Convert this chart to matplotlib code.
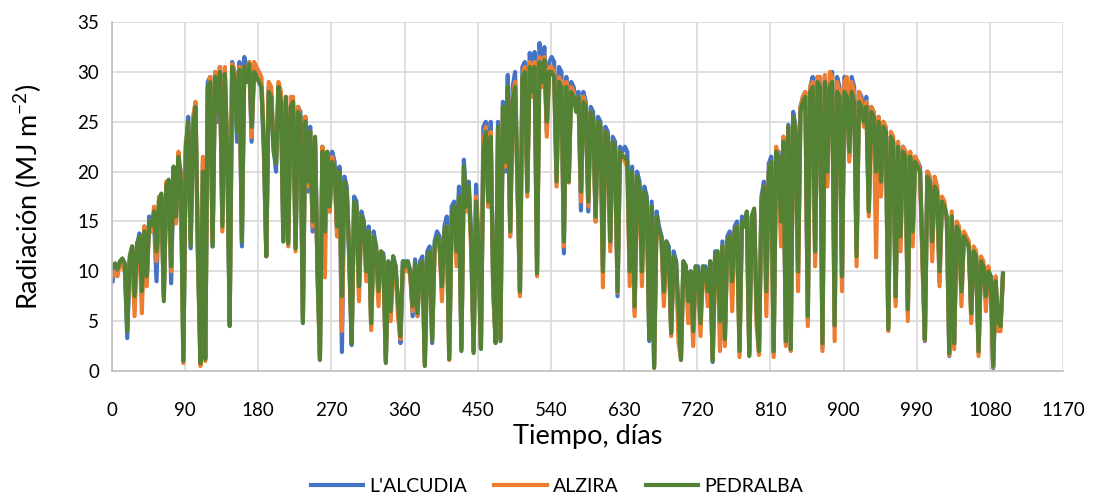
import numpy as np
import matplotlib.pyplot as plt

# Daily solar radiation, one value every 3 days (day 1 .. 1096)
days = np.arange(1, 1097, 3)

lalcudia = [
    # days 1-88
    9.0, 10.5, 10.0, 10.8, 11.0, 10.5, 3.3, 11.0, 12.0, 6.5, 12.5, 13.8, 7.5, 14.5, 9.0,
    15.5, 14.0, 15.0, 9.0, 16.5, 17.5, 7.5, 18.5, 19.0, 8.8, 20.0, 15.0, 21.0, 20.0, 1.2,
    # days 91-178
    22.0, 25.5, 12.3, 25.0, 26.0, 12.0, 1.0, 21.0, 1.5, 29.0, 29.5, 12.5, 30.0, 25.0, 30.5,
    15.0, 30.0, 21.0, 5.0, 31.0, 30.0, 23.0, 31.0, 12.5, 31.5, 29.5, 31.0, 23.0, 30.5, 29.5,
    # days 181-268
    29.0, 28.5, 22.0, 11.8, 28.5, 28.0, 22.5, 20.0, 28.5, 27.5, 13.0, 27.0, 13.0, 26.5, 26.5,
    12.5, 26.5, 26.0, 5.0, 25.5, 18.0, 24.5, 14.0, 23.0, 10.5, 1.5, 22.5, 13.5, 21.5, 16.0,
    # days 271-358
    22.0, 21.0, 14.0, 20.5, 1.9, 19.5, 18.5, 11.0, 2.6, 17.5, 17.0, 8.0, 16.0, 15.0, 9.5,
    14.5, 4.5, 14.0, 12.5, 7.5, 12.0, 11.8, 1.0, 11.0, 5.5, 11.5, 10.5, 6.5, 2.8, 11.0,
    # days 361-448
    11.0, 11.0, 10.0, 5.5, 11.2, 5.5, 11.0, 11.5, 0.8, 12.0, 12.5, 2.8, 13.0, 14.0, 13.5,
    8.0, 14.5, 15.5, 1.5, 16.5, 17.0, 12.5, 18.5, 2.2, 21.2, 17.0, 19.0, 13.5, 2.0, 18.7,
    # days 451-538
    13.0, 2.4, 24.5, 25.0, 16.5, 25.0, 8.5, 3.0, 25.0, 3.2, 27.0, 20.0, 29.7, 13.5, 28.5,
    30.0, 18.5, 7.8, 30.5, 31.0, 18.5, 31.9, 28.5, 32.0, 10.0, 32.9, 29.5, 32.5, 24.0, 31.0,
    # days 541-628
    31.5, 31.0, 19.5, 30.5, 30.0, 11.8, 29.5, 19.0, 29.0, 28.5, 27.0, 28.0, 16.1, 28.0, 27.0,
    16.0, 26.5, 26.0, 15.0, 25.5, 25.0, 10.5, 24.5, 24.0, 12.5, 23.5, 23.0, 7.5, 22.5, 22.0,
    # days 631-718
    22.5, 22.0, 9.9, 20.5, 6.0, 20.0, 19.0, 9.8, 18.5, 17.5, 3.0, 17.0, 0.5, 16.0, 14.5,
    13.5, 7.5, 13.0, 12.5, 4.0, 12.0, 11.0, 5.5, 1.2, 11.0, 10.5, 6.5, 10.0, 3.8, 10.5,
    # days 721-808
    10.5, 5.0, 10.5, 10.5, 7.5, 11.0, 0.9, 12.0, 12.0, 4.5, 13.0, 3.1, 13.5, 14.0, 8.5,
    14.5, 15.0, 2.2, 15.5, 15.0, 15.5, 1.6, 15.5, 16.0, 6.0, 2.0, 17.5, 19.0, 7.5, 20.8,
    # days 811-898
    21.5, 1.8, 22.2, 22.0, 14.0, 23.5, 2.8, 24.7, 2.1, 26.0, 24.5, 9.5, 26.5, 27.5, 28.0,
    5.1, 28.5, 29.5, 11.5, 29.5, 29.0, 2.4, 29.5, 19.0, 29.0, 30.0, 4.4, 29.5, 28.5, 9.4,
    # days 901-988
    29.5, 29.0, 21.5, 29.5, 28.5, 12.0, 28.0, 27.5, 25.5, 27.5, 16.1, 26.5, 26.0, 19.5, 25.5,
    18.0, 25.0, 24.0, 4.5, 23.5, 23.0, 7.0, 22.5, 13.0, 22.5, 22.0, 5.8, 21.5, 13.5, 21.5,
    # days 991-1096
    21.0, 20.5, 11.5, 3.0, 20.0, 19.5, 12.0, 19.0, 18.5, 9.0, 17.0, 16.5, 15.0, 1.5, 15.5,
    2.6, 14.5, 14.0, 7.5, 13.5, 13.0, 12.5, 5.5, 12.0, 11.5, 1.8, 11.0, 10.5, 7.0, 10.0,
    9.5, 0.3, 9.0, 4.5, 4.4, 9.6,
]

alzira = [
    # days 1-88
    9.5, 10.0, 9.5, 11.0, 10.5, 10.0, 5.0, 11.0, 12.5, 5.5, 12.0, 13.0, 5.8, 14.5, 8.5,
    15.0, 14.0, 16.5, 11.0, 17.5, 17.0, 7.5, 19.0, 18.5, 10.0, 20.5, 14.8, 22.0, 19.5, 0.8,
    # days 91-178
    23.0, 24.0, 13.0, 25.5, 27.0, 11.0, 0.5, 21.5, 1.0, 28.0, 29.5, 13.0, 30.0, 26.5, 30.5,
    14.0, 30.5, 22.5, 5.0, 30.8, 30.0, 24.5, 30.5, 13.5, 30.5, 30.0, 31.0, 23.5, 31.0, 30.5,
    # days 181-268
    30.0, 29.5, 23.5, 11.5, 29.0, 28.5, 22.5, 21.0, 29.0, 28.0, 13.5, 27.5, 12.5, 27.5, 27.5,
    12.0, 26.5, 25.5, 5.2, 25.5, 18.5, 24.0, 14.5, 23.0, 9.5, 1.3, 22.5, 9.4, 22.0, 16.0,
    # days 271-358
    21.5, 20.0, 13.5, 19.5, 4.0, 18.5, 18.0, 12.0, 3.0, 16.5, 16.5, 7.0, 15.5, 14.5, 9.0,
    14.0, 4.1, 13.0, 12.0, 6.5, 12.0, 11.0, 1.0, 10.5, 5.0, 11.0, 10.0, 5.5, 3.2, 10.5,
    # days 361-448
    10.0, 10.5, 9.5, 6.0, 10.5, 5.5, 10.0, 11.0, 0.6, 11.0, 11.5, 3.5, 12.0, 13.0, 13.0,
    7.0, 14.0, 14.5, 1.1, 15.0, 16.0, 10.5, 17.0, 2.5, 20.0, 16.0, 18.0, 12.0, 2.0, 17.5,
    # days 451-538
    11.5, 2.5, 23.0, 24.5, 16.5, 24.0, 8.0, 3.0, 24.0, 3.3, 26.5, 20.5, 28.5, 13.5, 27.5,
    29.0, 18.0, 7.5, 29.5, 30.5, 17.5, 31.0, 27.5, 31.0, 9.5, 31.5, 28.5, 31.5, 23.5, 30.5,
    # days 541-628
    30.5, 30.0, 18.5, 29.5, 29.0, 12.5, 29.0, 18.9, 28.5, 28.0, 26.5, 27.5, 17.0, 27.5, 26.5,
    16.5, 26.0, 25.5, 15.0, 25.0, 24.5, 8.4, 24.0, 23.5, 12.0, 23.0, 22.5, 7.9, 22.0, 21.5,
    # days 631-718
    21.0, 20.5, 8.5, 19.5, 5.5, 19.0, 18.0, 8.5, 17.5, 16.5, 3.5, 16.0, 0.5, 15.0, 13.5,
    13.0, 6.5, 12.5, 11.5, 3.5, 11.0, 10.5, 2.8, 1.3, 10.5, 10.0, 4.8, 9.5, 2.5, 10.0,
    # days 721-808
    9.5, 3.5, 10.0, 10.0, 6.5, 10.5, 1.1, 11.5, 11.5, 2.0, 12.5, 2.5, 13.0, 13.5, 6.0,
    14.0, 14.5, 1.4, 14.5, 14.5, 15.5, 1.8, 15.0, 16.0, 4.5, 1.6, 17.0, 18.5, 5.5, 20.0,
    # days 811-898
    21.0, 1.4, 22.5, 21.5, 12.5, 23.5, 2.5, 24.5, 2.0, 25.5, 24.0, 8.0, 26.5, 27.5, 28.0,
    4.5, 28.5, 29.0, 10.5, 29.5, 29.5, 2.0, 29.7, 18.5, 30.0, 29.5, 3.0, 29.0, 28.0, 8.0,
    # days 901-988
    29.0, 29.5, 21.0, 29.0, 28.0, 10.5, 28.0, 27.0, 24.5, 27.0, 15.5, 26.5, 26.0, 11.4, 25.5,
    17.5, 25.0, 24.5, 4.0, 24.0, 23.5, 6.5, 23.0, 12.0, 22.5, 22.0, 5.0, 22.0, 12.5, 21.5,
    # days 991-1096
    21.0, 20.0, 10.5, 3.1, 20.0, 19.5, 11.0, 19.5, 18.5, 8.5, 17.5, 17.0, 15.0, 1.6, 16.0,
    2.2, 15.0, 14.5, 6.5, 14.0, 13.5, 13.0, 4.8, 12.5, 12.0, 1.5, 11.5, 11.0, 6.0, 10.5,
    9.0, 0.4, 9.5, 4.0, 4.0, 9.5,
]

pedralba = [
    # days 1-88
    10.5, 10.8, 10.2, 11.0, 11.3, 10.8, 4.0, 11.5, 12.5, 7.5, 12.8, 13.5, 8.0, 14.0, 9.5,
    15.0, 14.6, 16.0, 12.0, 17.0, 17.8, 7.0, 18.5, 19.2, 10.5, 20.5, 15.5, 21.5, 19.0, 1.0,
    # days 91-178
    22.5, 25.0, 12.5, 24.5, 26.5, 11.5, 0.8, 20.0, 1.2, 28.5, 29.0, 12.5, 29.5, 26.0, 30.0,
    14.5, 29.8, 22.0, 4.5, 30.5, 29.5, 24.0, 30.2, 13.0, 30.5, 29.0, 30.8, 24.5, 30.0, 29.5,
    # days 181-268
    29.0, 28.5, 23.0, 11.5, 28.0, 27.5, 22.0, 20.8, 28.5, 27.0, 13.0, 27.5, 12.8, 26.5, 27.0,
    12.3, 26.0, 25.5, 4.8, 25.0, 19.0, 24.0, 15.0, 23.5, 10.0, 1.1, 22.0, 14.0, 22.0, 16.5,
    # days 271-358
    21.0, 20.5, 14.5, 20.0, 7.5, 19.0, 18.0, 12.0, 2.8, 17.0, 16.5, 8.5, 15.5, 15.0, 10.0,
    14.0, 4.8, 13.5, 12.5, 8.0, 12.0, 11.5, 0.8, 11.0, 6.0, 11.5, 10.5, 7.0, 3.5, 11.0,
    # days 361-448
    10.5, 11.0, 10.0, 6.5, 10.8, 5.8, 10.5, 11.0, 0.5, 11.5, 12.0, 3.0, 12.5, 13.5, 12.8,
    8.5, 14.0, 14.5, 1.2, 15.5, 16.5, 12.0, 17.5, 2.0, 20.5, 16.5, 18.5, 13.0, 1.8, 17.0,
    # days 451-538
    12.0, 2.2, 22.0, 24.0, 17.0, 23.5, 9.0, 2.8, 24.5, 3.0, 26.5, 21.0, 28.5, 14.0, 27.0,
    28.5, 19.0, 8.0, 29.5, 30.0, 18.0, 30.5, 28.0, 30.5, 9.8, 31.0, 29.0, 31.2, 25.0, 30.0,
    # days 541-628
    30.0, 29.5, 19.0, 29.0, 28.5, 13.0, 28.5, 19.0, 28.0, 27.5, 26.0, 27.5, 18.0, 27.0, 26.5,
    17.0, 26.0, 25.5, 15.5, 25.0, 24.5, 10.0, 24.0, 23.5, 13.0, 23.0, 22.5, 8.0, 22.0, 21.5,
    # days 631-718
    21.5, 21.0, 10.0, 20.0, 6.5, 19.5, 18.5, 10.0, 18.0, 17.0, 3.2, 16.5, 0.3, 15.5, 14.0,
    13.5, 8.0, 13.0, 12.0, 3.8, 11.5, 11.0, 6.0, 1.1, 11.0, 10.5, 7.0, 10.0, 4.0, 10.5,
    # days 721-808
    10.0, 4.8, 10.5, 10.0, 8.0, 11.0, 1.0, 11.5, 12.0, 5.0, 12.5, 3.2, 13.0, 13.5, 9.0,
    14.0, 14.5, 2.0, 15.0, 14.5, 16.0, 1.5, 15.5, 16.3, 6.0, 2.0, 17.0, 18.5, 8.0, 20.0,
    # days 811-898
    21.0, 2.0, 22.0, 21.5, 15.0, 23.0, 3.0, 24.5, 2.2, 25.5, 24.0, 10.0, 26.0, 27.0, 27.5,
    5.5, 28.0, 28.5, 12.0, 29.0, 28.5, 2.8, 29.0, 20.0, 28.5, 29.0, 4.6, 28.0, 27.5, 9.5,
    # days 901-988
    28.0, 27.5, 22.0, 28.0, 27.0, 11.5, 27.0, 26.5, 25.0, 26.5, 16.0, 26.0, 25.5, 20.0, 25.0,
    19.0, 24.5, 24.0, 4.2, 23.5, 23.0, 7.5, 22.5, 13.5, 22.0, 21.5, 6.2, 21.5, 14.0, 21.0,
    # days 991-1096
    20.5, 20.0, 12.0, 3.2, 19.5, 19.0, 13.0, 18.5, 18.0, 10.0, 17.0, 16.5, 15.5, 1.8, 15.5,
    2.8, 14.5, 14.0, 8.0, 13.5, 13.0, 12.5, 5.8, 12.0, 11.5, 2.0, 11.0, 10.5, 7.5, 10.0,
    9.5, 0.5, 9.0, 5.0, 4.5, 9.8,
]

series = [("L'ALCUDIA", lalcudia, '#4472C4'),
          ('ALZIRA', alzira, '#ED7D31'),
          ('PEDRALBA', pedralba, '#548235')]

plt.rcParams['font.family'] = ['Lato', 'DejaVu Sans']

fig = plt.figure(figsize=(10.96, 4.97), dpi=100)
ax = fig.add_axes([0.102, 0.2535, 0.868, 0.702])

for name, vals, col in series:
    ax.plot(days, vals, color=col, lw=3.0, label=name, solid_joinstyle='round')

ax.set_xlim(0, 1170)
ax.set_ylim(0, 35)
ax.set_xticks(np.arange(0, 1171, 90))
ax.set_yticks(np.arange(0, 36, 5))
ax.grid(True, color='#d9d9d9', lw=1.2)
ax.set_axisbelow(True)
ax.tick_params(length=0, labelsize=13.5, colors='#000000')
ax.tick_params(axis='x', pad=22)
ax.tick_params(axis='y', pad=9)
for s in ['top', 'right']:
    ax.spines[s].set_visible(False)
for s in ['left', 'bottom']:
    ax.spines[s].set_color('#bfbfbf')
    ax.spines[s].set_linewidth(1.2)

ax.set_xlabel('Tiempo, días', fontsize=19.5, labelpad=4)
ax.set_ylabel('Radiación (MJ m$^{\\mathregular{-2}}$)', fontsize=19.5, labelpad=24)

fig.legend(loc='center', bbox_to_anchor=(0.508, 0.022), ncol=3, frameon=False,
           fontsize=14, handlelength=2.7, columnspacing=1.4, handletextpad=0.3)

fig.savefig('out.png', dpi=100)
